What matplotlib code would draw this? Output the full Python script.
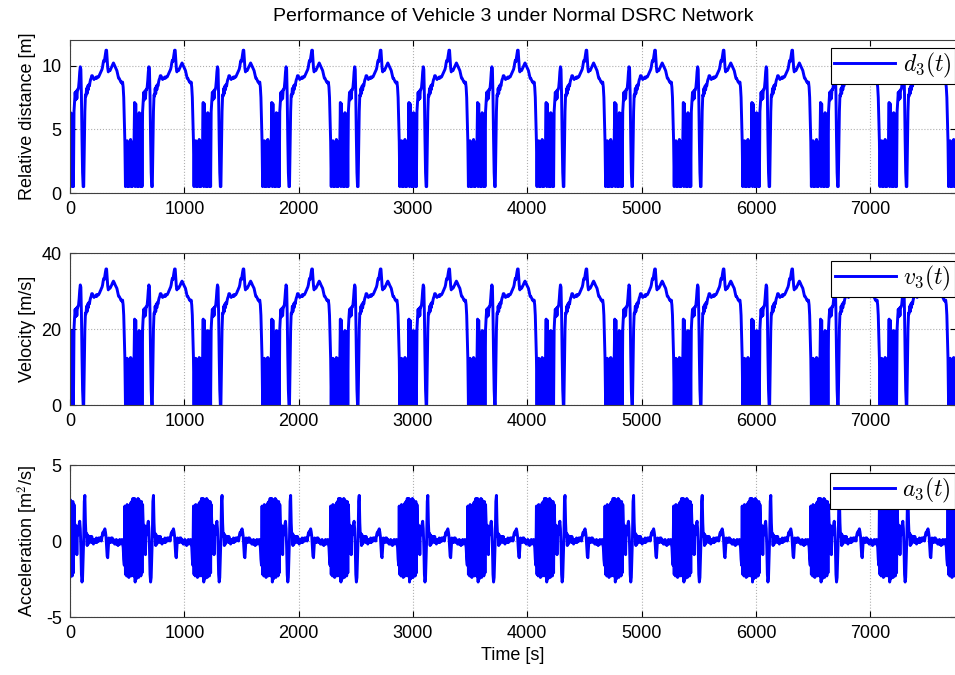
import numpy as np
import matplotlib
matplotlib.use("Agg")
import matplotlib.pyplot as plt

plt.rcParams['font.family'] = ['Liberation Sans', 'DejaVu Sans']
plt.rcParams['mathtext.fontset'] = 'cm'
plt.rcParams['axes.unicode_minus'] = False

# one drive cycle (600 s), sampled every 5 s, starting where the stop-and-go part begins
cycle_len = 600
cycle_start = -120   # first cycle begins before t = 0
n_cycles = 14

dist_cycle = [
    4.0, 0.5, 3.9, 0.6, 4.1, 0.5, 3.8, 0.5, 4.0, 0.6, 4.2, 0.5, 3.9, 0.5, 4.0, 0.7,
    4.1, 7.1, 0.5, 7.0, 0.6, 4.6, 0.5, 6.0, 0.5, 6.3, 0.6, 6.1, 0.5, 6.2, 0.5, 6.4,
    7.2, 7.9, 7.3, 8.0, 7.4, 8.1, 8.1, 8.3, 8.8, 9.5, 9.9, 9.7, 7.6, 4.2, 1.6, 0.5,
    0.5, 3.2, 6.4, 7.7, 7.6, 8.2, 7.8, 8.4, 8.1, 8.5, 8.4, 8.7, 8.9, 9.0, 9.2, 9.2,
    9.1, 9.0, 8.9, 9.0, 9.0, 9.0, 9.1, 9.0, 9.1, 9.1, 9.1, 9.2, 9.3, 9.4, 9.5, 9.6,
    9.7, 9.9, 10.2, 10.4, 10.3, 10.6, 10.9, 11.2, 11.2, 10.5, 9.8, 9.5, 9.6, 9.7, 9.6, 9.7,
    9.8, 9.9, 10.0, 10.1, 10.2, 10.1, 10.0, 9.9, 9.8, 9.7, 9.6, 9.4, 9.2, 9.0, 9.0, 8.9,
    8.8, 8.7, 8.7, 8.6, 8.7, 8.3, 7.5, 5.8,
]

vel_cycle = [
    12.2, 0.0, 11.8, 0.2, 12.3, 0.0, 11.5, 0.0, 12.0, 0.3, 12.5, 0.0, 11.8, 0.0, 12.1, 0.5,
    12.3, 22.6, 0.0, 22.3, 0.3, 14.0, 0.0, 18.5, 0.0, 19.6, 0.3, 19.0, 0.0, 19.4, 0.0, 20.0,
    23.0, 25.2, 23.2, 25.5, 23.5, 25.8, 25.8, 26.4, 28.0, 30.2, 31.6, 31.0, 24.0, 12.8, 4.0, 0.0,
    0.0, 9.5, 20.0, 24.2, 24.0, 26.0, 24.6, 26.6, 25.6, 27.0, 26.6, 27.6, 28.2, 28.6, 29.3, 29.3,
    29.0, 28.6, 28.3, 28.6, 28.6, 28.6, 29.0, 28.6, 29.0, 29.0, 29.0, 29.3, 29.6, 30.0, 30.3, 30.7,
    31.0, 31.6, 32.6, 33.3, 33.0, 34.0, 35.0, 35.8, 35.8, 33.6, 31.3, 30.3, 30.7, 31.0, 30.7, 31.0,
    31.3, 31.6, 32.0, 32.3, 32.6, 32.3, 32.0, 31.6, 31.3, 31.0, 30.7, 30.0, 29.3, 28.6, 28.6, 28.3,
    28.0, 27.6, 27.6, 27.3, 27.6, 26.3, 23.6, 17.8,
]

acc_cycle = [
    2.3, -2.2, 2.2, -2.3, 2.4, -2.2, 2.3, -2.4, 2.2, -2.1, 2.5, -2.3, 2.6, -2.2, 2.8, -2.3,
    2.4, 2.8, -2.7, 2.7, -2.5, 2.6, -2.3, 2.8, -2.4, 2.7, -2.2, 2.5, -2.3, 2.6, -2.1, 2.4,
    1.2, 0.9, -0.8, 1.0, -0.9, 0.8, 0.4, 0.5, 1.1, 1.3, 0.8, -0.4, -2.2, -2.7, -2.4, -1.2,
    0.2, 2.6, 3.0, 1.2, 0.3, 0.5, -0.3, 0.4, -0.2, 0.3, 0.1, 0.3, 0.2, -0.1, 0.3, 0.1,
    -0.1, -0.2, 0.1, -0.1, 0.1, -0.1, 0.2, -0.1, 0.1, 0.0, 0.2, 0.0, 0.2, 0.1, 0.2, 0.0,
    0.3, 0.5, 0.6, 0.4, 0.7, 0.8, 0.6, 0.3, -0.4, -1.0, -1.1, -0.5, 0.2, -0.1, 0.1, -0.1,
    0.2, 0.0, 0.2, -0.1, 0.1, 0.0, -0.2, 0.0, -0.2, 0.1, -0.2, -0.1, -0.3, 0.0, -0.2, 0.1,
    -0.2, 0.0, -0.1, 0.1, -0.2, -0.4, -1.2, -1.6,
]

step = cycle_len // len(dist_cycle)
tau = np.arange(len(dist_cycle)) * step
t = np.concatenate([cycle_start + k * cycle_len + tau for k in range(n_cycles)])
d = np.tile(dist_cycle, n_cycles)
v = np.tile(vel_cycle, n_cycles)
a = np.tile(acc_cycle, n_cycles)

fig = plt.figure(figsize=(9.55, 6.75), dpi=100)
W, H = 955.0, 675.0
left, right = 70 / W, 956 / W

panels = [
    (d, (0, 12), [0, 5, 10], 'Relative distance [m]', r'$d_3(t)$', 40, 193),
    (v, (0, 40), [0, 20, 40], 'Velocity [m/s]', r'$v_3(t)$', 253, 405),
    (a, (-5, 5), [-5, 0, 5], r'Acceleration [m$^2$/s]', r'$a_3(t)$', 465, 617),
]

axes = []
for y, ylim, yt, ylab, leg, top, bot in panels:
    ax = fig.add_axes([left, 1 - bot / H, right - left, (bot - top) / H])
    ax.plot(t, y, color='#0000ff', lw=2.1, label=leg)
    ax.set_xlim(0, 7750)
    ax.set_ylim(*ylim)
    ax.set_yticks(yt)
    ax.set_xticks(range(0, 8000, 1000))
    ax.grid(True, color='#b0b0b0', ls=':', lw=0.8)
    ax.tick_params(direction='in', top=True, right=True, labelsize=13, length=4, pad=6)
    for s in ax.spines.values():
        s.set_color('#404040')
        s.set_linewidth(0.8)
    ax.set_ylabel(ylab, fontsize=13, labelpad=4)
    lg = ax.legend(loc='upper right', bbox_to_anchor=(0.9985, 0.95), fontsize=17,
                   frameon=True, fancybox=False, edgecolor='black', framealpha=1,
                   handlelength=2.6, handletextpad=0.3, borderpad=0.15, borderaxespad=0)
    lg.get_frame().set_linewidth(0.8)
    axes.append(ax)

axes[0].set_title('Performance of Vehicle 3 under Normal DSRC Network', fontsize=14, pad=14)
axes[2].set_xlabel('Time [s]', fontsize=13, labelpad=3)

fig.savefig('out.png', dpi=100)
